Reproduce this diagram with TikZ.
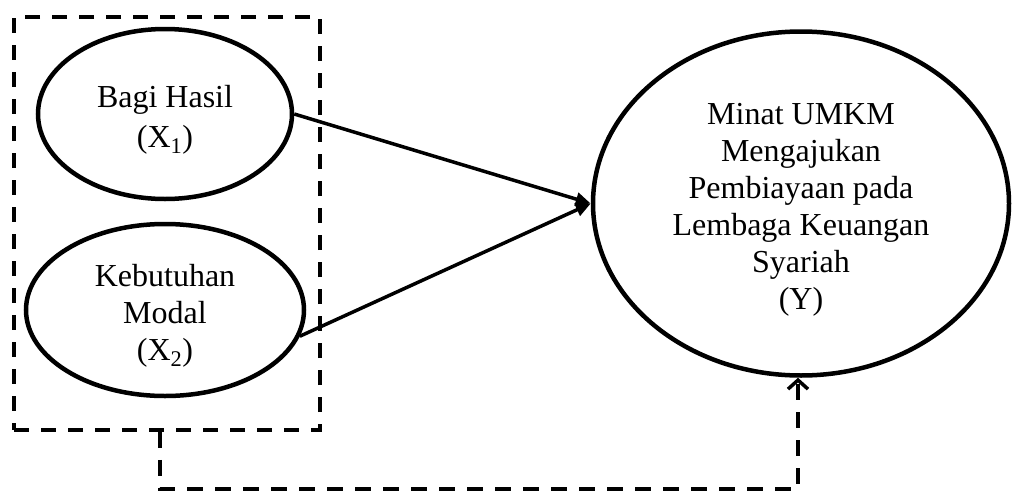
\documentclass[tikz,border=0pt]{standalone}
\usepackage{fontspec}
\setmainfont{Liberation Serif}
\usetikzlibrary{shapes.geometric,arrows.meta}

% tall invisible strut that pushes a text block slightly down inside its ellipse
\newcommand{\lowerstrut}{\rule{0pt}{33pt}}

\begin{document}
\begin{tikzpicture}[x=1pt,y=-1pt,
  latent/.style={ellipse, draw, line width=4.5pt, inner sep=0pt, align=center,
    font=\fontsize{32}{37}\selectfont},
  path/.style={line width=3.5pt, -{Triangle[length=15pt,width=13pt]}},
  groupbox/.style={draw, line width=3.8pt, dash pattern=on 15pt off 12pt, inner sep=0pt},
  feedback/.style={line width=3.8pt, dash pattern=on 16pt off 12pt,
    -{Straight Barb[length=9pt,width=20pt,line width=3.5pt]}}
]
\useasboundingbox (0,0) rectangle (1013,493);

% independent variables inside the dashed group
\node[groupbox, minimum width=306pt, minimum height=413pt] (grp) at (167,223.5) {};
\node[latent, minimum width=254pt, minimum height=170pt,
  font=\fontsize{32}{40}\selectfont] (x1) at (165,114)
  {\lowerstrut Bagi Hasil\\(X\textsubscript{1})};
\node[latent, minimum width=278pt, minimum height=172pt] (x2) at (165,310)
  {\lowerstrut Kebutuhan\\Modal\\(X\textsubscript{2})};

% dependent variable
\node[latent, minimum width=416pt, minimum height=344pt] (y) at (801,203.5)
  {\lowerstrut Minat UMKM\\Mengajukan\\Pembiayaan pada\\Lembaga Keuangan\\Syariah\\(Y)};

% direct effects
\draw[path] (x1.east) -- (y.west);
\draw[path] (x2.-11) -- (y.west);

% simultaneous effect of the group
\coordinate (gout) at ([xshift=-7pt]grp.south);
\draw[feedback] (gout) -- ++(0,57) -| ([xshift=-3pt]y.south);
\end{tikzpicture}
\end{document}
